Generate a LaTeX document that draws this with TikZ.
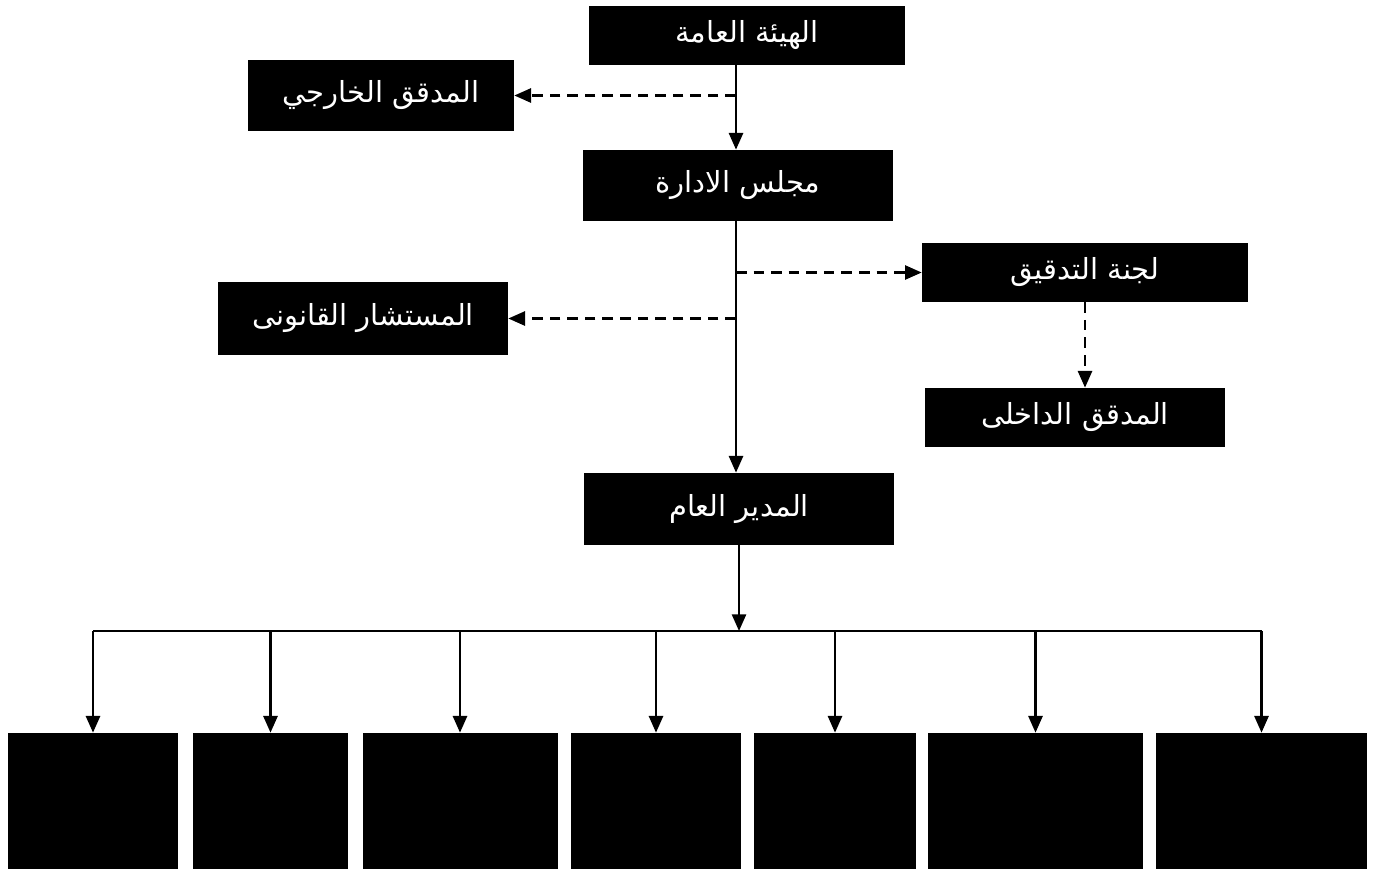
\documentclass[tikz,border=0pt]{standalone}
\usepackage{fontspec}
\newfontfamily\arabicfont[Script=Arabic]{DejaVu Sans}
\TeXXeTstate=1
\usetikzlibrary{arrows.meta}

\tikzset{
  box/.style={fill=black, text=white, inner sep=0pt, font=\arabicfont\fontsize{16.5}{19}\selectfont},
  link/.style={line width=1.4pt, -{Triangle[length=9.5pt,width=8pt]}},
  dlink/.style={link, dash pattern=on 6pt off 4pt}
}

\begin{document}
\begin{tikzpicture}[x=0.02cm, y=-0.02cm]
        \useasboundingbox (0,0) rectangle (1378,869);

        % Upper levels
        \node[box, minimum width=6.32cm, minimum height=1.18cm] (ga) at (747,35.5) {\beginR الهيئة العامة\endR};
        \node[box, minimum width=5.32cm, minimum height=1.42cm] (ext) at (381,95.5) {\beginR المدقق الخارجي\endR};
        \node[box, minimum width=6.2cm, minimum height=1.42cm] (brd) at (738,185.5) {\beginR مجلس الادارة\endR};
        \node[box, minimum width=6.52cm, minimum height=1.18cm] (aud) at (1085,272.5) {\beginR لجنة التدقيق\endR};
        \node[box, minimum width=5.8cm, minimum height=1.46cm] (law) at (363,318.5) {\beginR المستشار القانونى\endR};
        \node[box, minimum width=6.02cm, minimum height=1.18cm] (int) at (1075,417.5) {\beginR المدقق الداخلى\endR};
        \node[box, minimum width=6.2cm, minimum height=1.44cm] (gm) at (739,509) {\beginR المدير العام\endR};

        % Departments (no text)
        \foreach \i/\cx/\w in {1/93/170, 2/270.5/155, 3/460/195, 4/656/170, 5/835/162, 6/1035.5/215, 7/1261.5/211}
            \node[box, minimum width={\w*0.02cm}, minimum height=2.72cm] (d\i) at (\cx,801) {};

        % Main line
        \coordinate (spine) at (736,0);
        \coordinate (bar) at (739,631);
        \draw[link] (ga.south -| spine) -- (brd.north -| spine);
        \draw[link] (brd.south -| spine) -- (gm.north -| spine);
        \draw[dlink] (spine |- ext.east) -- (ext.east);
        \draw[dlink] (spine |- aud.west) -- (aud.west);
        \draw[dlink] (spine |- law.east) -- (law.east);
        \draw[dlink] (aud.south) -- (aud.south |- int.north);

        % Down to departments
        \draw[link] (gm.south) -- (gm.south |- bar);
        \draw[line width=1.4pt] (d1.north |- bar) -- (d7.north |- bar);
        \foreach \i in {1,...,7}
            \draw[link] (d\i.north |- bar) -- (d\i.north);
\end{tikzpicture}
\end{document}
